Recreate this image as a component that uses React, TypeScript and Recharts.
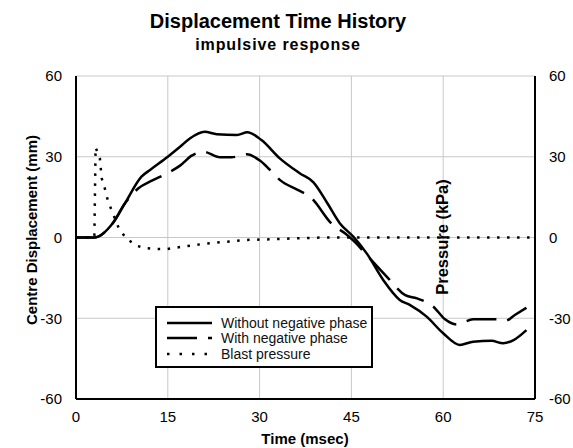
import { LineChart, Line, XAxis, YAxis, CartesianGrid, Legend } from 'recharts'

const FONT = '"Liberation Sans", Arial, sans-serif'

// Without negative phase (mm)
const solidT = [0, 3, 6, 8, 10.7, 12.1, 15, 17, 18.6, 21, 23, 26.3, 28, 30.3, 33.3, 36.6, 38.8, 41, 43.1, 45.3, 47.5, 50.2, 52.9, 54.6, 57.3, 60, 62.7, 64.9, 67.9, 69.8, 71.5, 73.6]
const solidD = [0, 0, 5.3, 12.7, 22.6, 25.1, 30, 33.7, 36.8, 39.3, 38.4, 38.1, 39.1, 36.2, 29.4, 23.8, 20.5, 13, 5.3, 0.3, -5.9, -15.8, -23.2, -25.1, -29.4, -35.6, -39.9, -38.7, -38.4, -39.3, -38.1, -34.4]

// With negative phase (mm)
const dashT = [0, 3, 6, 8, 10.2, 12.4, 15, 17, 18.9, 20.8, 23.5, 25.4, 27.9, 30.1, 31.7, 33.3, 36.3, 38.2, 42, 44, 45.5, 47.5, 50.8, 53.8, 55.7, 58.4, 60.3, 62.2, 64.9, 66.8, 68.7, 70.1, 71.7, 73.6]
const dashD = [0, 0, 5.3, 12.7, 18.3, 21.1, 24, 26.7, 30.4, 31.9, 29.8, 29.8, 30.9, 28.5, 25.1, 21.4, 17.6, 15.2, 4.6, 1.5, -1.5, -6.5, -14.6, -21.4, -22.6, -25.7, -30.4, -32.3, -30.4, -30.4, -30.4, -31, -28.8, -26.1]

// Blast pressure (kPa)
const presT = [0, 3, 3.2, 3.9, 4.2, 4.7, 5.1, 5.7, 7, 8.2, 9.8, 11.5, 13.2, 14.8, 18.1, 21.4, 24.6, 27.9, 31.2, 35, 40, 75]
const presP = [0, 0, 33.5, 29.4, 22, 18.3, 14.6, 10.8, 3.4, -0.3, -3, -4, -4.3, -4.3, -3.2, -2.2, -1.6, -0.9, -0.7, -0.4, 0, 0]

const xTicks = [0, 15, 30, 45, 60, 75]
const yTicks = [-60, -30, 0, 30, 60]

const solidData = solidT.map((t, i) => ({ t, v: solidD[i] }))
const dashData = dashT.map((t, i) => ({ t, v: dashD[i] }))
const presData = presT.map((t, i) => ({ t, v: presP[i] }))

const DASH = '30 11'
const DOT = '2.5 7.5'

const legendItems = [
  { label: 'Without negative phase', dash: undefined },
  { label: 'With negative phase', dash: DASH },
  { label: 'Blast pressure', dash: '2.5 10' },
]

function LegendBox() {
  return (
    <div style={{
      width: 218, height: 62, border: '2px solid #000', background: '#fff', overflow: 'hidden',
      fontFamily: FONT, fontSize: 14, color: '#111', paddingTop: 7, boxSizing: 'border-box',
    }}>
      {legendItems.map(it => (
        <div key={it.label} style={{ display: 'flex', alignItems: 'center', height: 15.5, whiteSpace: 'nowrap' }}>
          <svg width={64} height={8} style={{ flexShrink: 0 }}>
            <line x1={10} x2={55} y1={4} y2={4} stroke="#000" strokeWidth={2.5} strokeDasharray={it.dash} />
          </svg>
          <span>{it.label}</span>
        </div>
      ))}
    </div>
  )
}

const tick = { fontSize: 15, fill: '#000', fontFamily: FONT }
const bold = { fontFamily: FONT, fontWeight: 700, color: '#000', position: 'absolute' as const, whiteSpace: 'nowrap' as const }

export default function App() {
  return (
    <div style={{ position: 'absolute', left: 0, top: 0, width: 573, height: 448, background: '#fff' }}>
      <LineChart width={573} height={448} margin={{ top: 76, left: 46, right: 8, bottom: 29 }}>
        <CartesianGrid xAxisId="b" yAxisId="l" stroke="#c8c8c8" strokeWidth={1} />
        <XAxis
          xAxisId="b" type="number" dataKey="t" domain={[0, 75]} ticks={xTicks}
          allowDataOverflow height={20} tick={tick} tickLine={false}
          axisLine={{ stroke: '#000', strokeWidth: 2 }} tickMargin={6}
        />
        <XAxis
          xAxisId="top" orientation="top" type="number" dataKey="t" domain={[0, 75]} ticks={xTicks}
          height={0} tick={false} tickLine={false} axisLine={{ stroke: '#000', strokeWidth: 2 }}
        />
        <YAxis
          yAxisId="l" domain={[-60, 60]} ticks={yTicks} width={30} tick={tick} tickLine={false}
          axisLine={{ stroke: '#000', strokeWidth: 2 }} tickMargin={8}
        />
        <YAxis
          yAxisId="r" orientation="right" domain={[-60, 60]} ticks={yTicks} width={30} tick={{ ...tick, textAnchor: 'start' }}
          tickLine={false} axisLine={{ stroke: '#000', strokeWidth: 2 }} tickMargin={8}
        />
        <Legend
          layout="vertical" align="center" verticalAlign="middle"
          wrapperStyle={{ left: 155, top: 306, width: 218 }}
          content={() => <LegendBox />}
        />
        <Line
          xAxisId="b" yAxisId="r" data={presData} dataKey="v" type="linear" stroke="#000"
          strokeWidth={2.5} strokeDasharray={DOT} dot={false} isAnimationActive={false} name="Blast pressure"
        />
        <Line
          xAxisId="b" yAxisId="l" data={dashData} dataKey="v" type="monotone" stroke="#000"
          strokeWidth={2.5} strokeDasharray={DASH} dot={false} isAnimationActive={false} name="With negative phase"
        />
        <Line
          xAxisId="b" yAxisId="l" data={solidData} dataKey="v" type="monotone" stroke="#000"
          strokeWidth={2.5} dot={false} isAnimationActive={false} name="Without negative phase"
        />
      </LineChart>

      <div style={{ ...bold, left: 0, width: 556, top: 10, textAlign: 'center', fontSize: 20 }}>
        Displacement Time History
      </div>
      <div style={{ ...bold, left: 0, width: 556, top: 36, textAlign: 'center', fontSize: 16, letterSpacing: 0.9 }}>
        impulsive response
      </div>
      <div style={{ ...bold, left: 31, top: 230, fontSize: 15, transform: 'translate(-50%, -50%) rotate(-90deg)' }}>
        Centre Displacement (mm)
      </div>
      <div style={{ ...bold, left: 442, top: 237, fontSize: 16.5, transform: 'translate(-50%, -50%) rotate(-90deg)' }}>
        Pressure (kPa)
      </div>
      <div style={{ ...bold, left: 0, width: 610, top: 430, textAlign: 'center', fontSize: 15 }}>
        Time (msec)
      </div>
    </div>
  )
}
